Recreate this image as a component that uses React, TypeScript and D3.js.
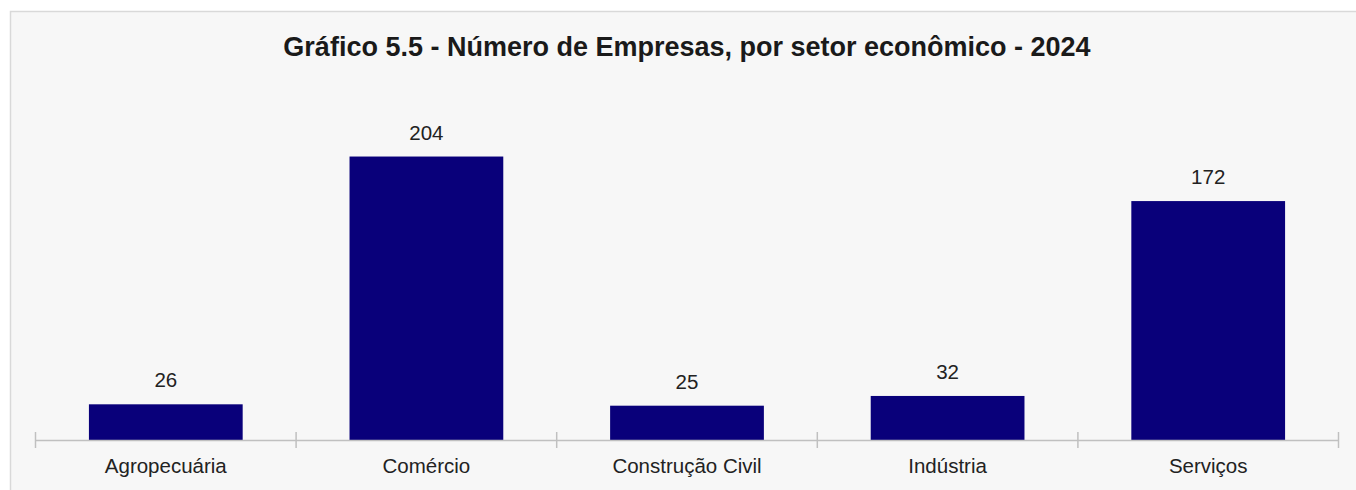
import React from "react";
import * as d3 from "d3";

const categories = ["Agropecuária", "Comércio", "Construção Civil", "Indústria", "Serviços"];
const values = [26, 204, 25, 32, 172];
const title = "Gráfico 5.5 - Número de Empresas, por setor econômico - 2024";

export default function App() {
  const W = 1356;
  const H = 490;
  const x0 = 35.5;
  const x1 = 1338.5;
  const base = 440.5;
  const x = d3.scaleBand<string>().domain(categories).range([x0, x1]).paddingInner(0.41).paddingOuter(0.205);
  const y = d3.scaleLinear().domain([0, 250]).range([base, 92.5]);
  const step = x.step();
  const ticks = d3.range(categories.length + 1).map((i) => x0 + i * step);
  const font = "'Liberation Sans', Arial, sans-serif";
  return (
    <svg width={W} height={H} style={{ position: "absolute", left: 0, top: 0, background: "#fff" }}>
      <rect x={10.5} y={11.5} width={W + 20} height={H + 20} fill="#f7f7f7" stroke="#d9d9d9" strokeWidth={1.5} />
      <text x={687} y={56} textAnchor="middle" fontFamily={font} fontWeight="bold" fontSize={27} fill="#1a1a1a">
        {title}
      </text>
      {categories.map((c, i) => (
        <g key={c}>
          <rect x={x(c)} y={y(values[i])} width={x.bandwidth()} height={base - y(values[i])} fill="#09007a" />
          <text x={x(c)! + x.bandwidth() / 2} y={y(values[i]) - 17} textAnchor="middle" fontFamily={font} fontSize={20.5} fill="#222">
            {values[i]}
          </text>
          <text x={x(c)! + x.bandwidth() / 2} y={473} textAnchor="middle" fontFamily={font} fontSize={20.5} fill="#222">
            {c}
          </text>
        </g>
      ))}
      <line x1={x0} x2={x1} y1={base} y2={base} stroke="#c0c0c0" strokeWidth={1.5} />
      {ticks.map((t, i) => (
        <line key={i} x1={t} x2={t} y1={432} y2={448} stroke="#c0c0c0" strokeWidth={1.5} />
      ))}
    </svg>
  );
}
